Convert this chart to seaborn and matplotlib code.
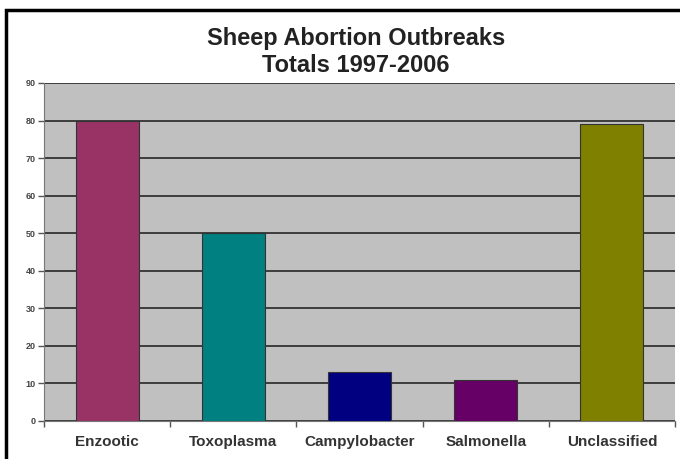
import pandas as pd
import matplotlib.pyplot as plt
from matplotlib.patches import Rectangle
from matplotlib.ticker import FixedLocator
import seaborn as sns

# data
categories = ["Enzootic", "Toxoplasma", "Campylobacter", "Salmonella", "Unclassified"]
outbreaks = [80, 50, 13, 11, 79]
bar_colors = ["#993366", "#008080", "#000080", "#660066", "#808000"]
y_ticks = [0, 10, 20, 30, 40, 50, 60, 70, 80, 90]

df = pd.DataFrame({"cause": categories, "count": outbreaks})

sns.set_style("white")
plt.rcParams["font.family"] = ["Liberation Sans", "DejaVu Sans"]

fig = plt.figure(figsize=(6.8, 4.59), dpi=100)
fig.patch.set_facecolor("white")
ax = fig.add_axes([44 / 680, 1 - 421 / 459, 631 / 680, 338 / 459])

sns.barplot(data=df, x="cause", y="count", hue="cause", palette=bar_colors,
            legend=False, width=0.5, edgecolor="#333333", linewidth=0.8,
            saturation=1, ax=ax, zorder=3)

ax.set_facecolor("#C0C0C0")
ax.set_ylim(0, 90)
ax.set_xlim(-0.5, len(categories) - 0.5)
ax.set_yticks(y_ticks)
ax.set_yticklabels([str(v) for v in y_ticks], fontsize=6.5, fontweight="bold", color="#444444")
ax.grid(axis="y", color="#333333", linewidth=1.3, zorder=0)
ax.set_axisbelow(True)

ax.tick_params(axis="y", direction="out", length=4, width=1, color="#555555", pad=2, left=True)
ax.tick_params(axis="x", which="major", length=0, pad=10, labelsize=11, labelcolor="#333333")
for lbl in ax.get_xticklabels():
    lbl.set_fontweight("bold")
ax.xaxis.set_minor_locator(FixedLocator([-0.5, 0.5, 1.5, 2.5, 3.5, 4.5]))
ax.tick_params(axis="x", which="minor", direction="out", length=4, width=1, color="#555555", bottom=True)

for side in ["top", "right"]:
    ax.spines[side].set_visible(False)
ax.spines["left"].set_color("#777777")
ax.spines["bottom"].set_color("#777777")
ax.set_xlabel("")
ax.set_ylabel("")

# title
fig.text(356 / 680, 1 - 38 / 459, "Sheep Abortion Outbreaks", ha="center", va="center",
         fontsize=17, fontweight="bold", color="#222222")
fig.text(356 / 680, 1 - 66 / 459, "Totals 1997-2006", ha="center", va="center",
         fontsize=17, fontweight="bold", color="#222222")

# outer frame
fig.patches.append(Rectangle((6 / 680, -0.1), 1.2, 1 - 10 / 459 + 0.1, transform=fig.transFigure,
                             fill=False, edgecolor="black", linewidth=2.5))

fig.savefig("out.png", dpi=100)
